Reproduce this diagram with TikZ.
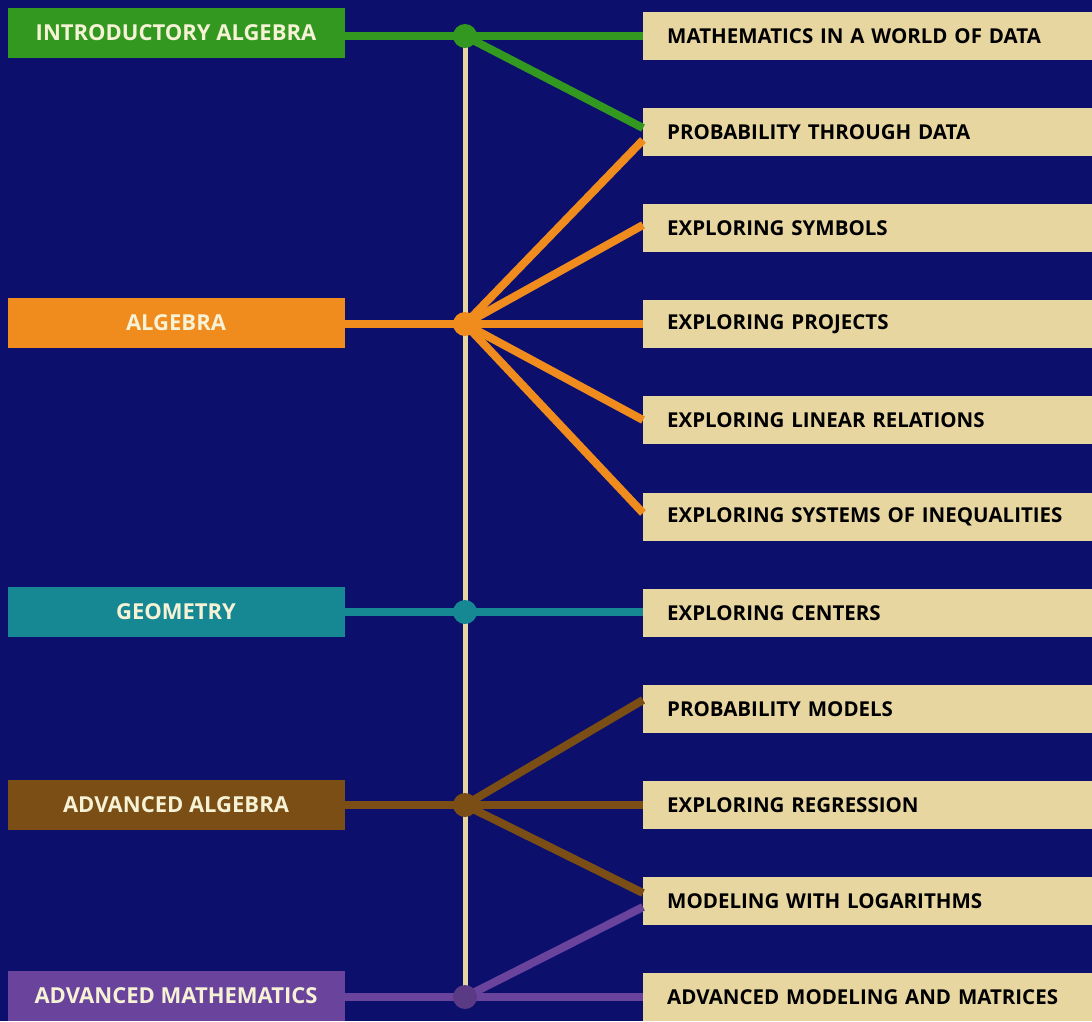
\documentclass[tikz,border=0pt]{standalone}
\usepackage{fontspec}
\setmainfont{Open Sans}
\definecolor{navy}{RGB}{12,16,108}
\definecolor{cgreen}{RGB}{50,152,32}
\definecolor{corange}{RGB}{240,140,30}
\definecolor{cteal}{RGB}{22,136,148}
\definecolor{cbrown}{RGB}{122,78,20}
\definecolor{cpurple}{RGB}{106,68,156}
\definecolor{ctan}{RGB}{232,214,160}
\definecolor{ccream}{RGB}{246,242,214}
\tikzset{
  course/.style={minimum width=337,minimum height=50,inner sep=0,text=ccream,
    font=\fontsize{22}{26}\selectfont\bfseries},
  unit/.style={anchor=west,fill=ctan,minimum height=48,text width=401,inner xsep=24,
    inner ysep=0,align=left,font=\fontsize{20.5}{24}\selectfont\bfseries},
  link/.style={line width=8},
  spine/.style={line width=5,ctan},
  dot/.style={circle,inner sep=0,minimum size=24}
}
\begin{document}
\begin{tikzpicture}[x=1pt,y=-1pt]
\fill[navy] (0,0) rectangle (1092,1021);
\useasboundingbox (0,0) rectangle (1092,1021);

% courses
\node[course,fill=cgreen] (intro) at (176,33) {INTRODUCTORY ALGEBRA};
\node[course,fill=corange] (alg) at (176,323) {ALGEBRA};
\node[course,fill=cteal] (geo) at (176,612) {GEOMETRY};
\node[course,fill=cbrown] (advalg) at (176,805) {ADVANCED ALGEBRA};
\node[course,fill=cpurple] (advmath) at (176,996) {ADVANCED MATHEMATICS};

% units
\node[unit] (data) at (643,36) {MATHEMATICS IN A WORLD OF DATA};
\node[unit] (prob) at (643,132) {PROBABILITY THROUGH DATA};
\node[unit] (symb) at (643,228) {EXPLORING SYMBOLS};
\node[unit] (proj) at (643,324) {EXPLORING PROJECTS};
\node[unit] (lin) at (643,420) {EXPLORING LINEAR RELATIONS};
\node[unit] (ineq) at (643,517) {EXPLORING SYSTEMS OF INEQUALITIES};
\node[unit] (cent) at (643,613) {EXPLORING CENTERS};
\node[unit] (pmod) at (643,709) {PROBABILITY MODELS};
\node[unit] (regr) at (643,805) {EXPLORING REGRESSION};
\node[unit] (logs) at (643,901) {MODELING WITH LOGARITHMS};
\node[unit] (matr) at (643,997) {ADVANCED MODELING AND MATRICES};

\coordinate (j1) at (465,36);
\coordinate (j2) at (465,324);
\coordinate (j3) at (465,612);
\coordinate (j4) at (465,805);
\coordinate (j5) at (465,997);

\draw[spine] (j1) -- (j5);

\draw[link,cgreen] (intro.east |- j1) -- (j1) -- (data.west |- j1);
\draw[link,cgreen] (j1) -- ([yshift=4]prob.west);

\draw[link,corange] (alg.east |- j2) -- (j2) -- (proj.west |- j2);
\draw[link,corange] (j2) -- ([yshift=-8]prob.west);
\draw[link,corange] (j2) -- ([yshift=3]symb.west);
\draw[link,corange] (j2) -- (lin.west);
\draw[link,corange] (j2) -- ([yshift=4]ineq.west);

\draw[link,cteal] (geo.east |- j3) -- (j3) -- (cent.west |- j3);

\draw[link,cbrown] (advalg.east |- j4) -- (j4) -- (regr.west |- j4);
\draw[link,cbrown] (j4) -- ([yshift=9]pmod.west);
\draw[link,cbrown] (j4) -- ([yshift=8]logs.west);

\draw[link,cpurple] (advmath.east |- j5) -- (j5) -- (matr.west |- j5);
\draw[link,cpurple] (j5) -- ([yshift=-6]logs.west);

\node[dot,fill=cgreen] (d1) at (j1) {};
\node[dot,fill=corange] (d2) at (j2) {};
\node[dot,fill=cteal] (d3) at (j3) {};
\node[dot,fill=cbrown] (d4) at (j4) {};
\node[dot,fill=cpurple!85!black] (d5) at (j5) {};

\end{tikzpicture}
\end{document}
